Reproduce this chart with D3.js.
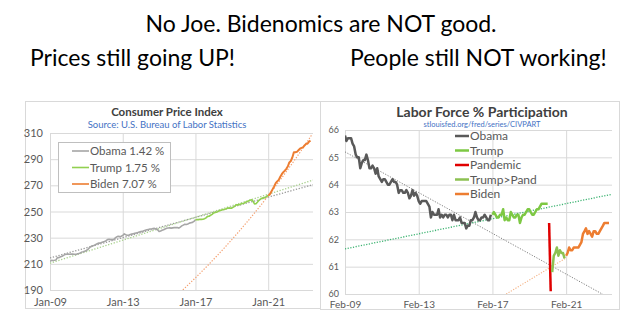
<!DOCTYPE html>
<html><head><meta charset="utf-8">
<script src="https://cdn.jsdelivr.net/npm/d3@7"></script>
<style>
body{margin:0;background:#fff;}
svg{display:block;font-family:Lato,'Open Sans',sans-serif;}
</style>
</head><body>
<svg id="c" width="640" height="330"></svg>
<script>
// ---------------- DATA ----------------
const headline = "No Joe. Bidenomics are NOT good.";
const subLeft = "Prices still going UP!";
const subRight = "People still NOT working!";

// Consumer Price Index, monthly from Jan 2009
const cpiTitle = "Consumer Price Index";
const cpiSource = "Source: U.S. Bureau of Labor Statistics";
const cpiStart = "2009-01";
const cpiValues = [
 211.9,212.7,212.5,212.7,213.0,214.8,214.7,215.4,215.8,216.5,217.2,217.3,
 217.5,217.3,217.4,217.4,217.3,217.2,217.6,217.9,218.3,219.0,219.2,219.7,
 220.2,221.0,222.2,223.1,223.8,224.0,224.6,225.3,225.8,225.8,226.3,226.7,
 227.1,227.7,228.5,228.8,228.5,228.5,228.5,229.6,230.6,231.1,230.8,231.1,
 231.6,232.9,232.3,231.8,231.9,232.4,232.7,233.0,233.3,233.6,233.9,234.3,
 234.6,234.8,235.2,235.6,236.0,236.3,236.6,236.6,236.9,237.1,236.6,236.0,
 234.7,235.1,235.6,236.0,236.6,237.2,237.4,237.5,237.3,237.5,237.7,237.8,
 237.7,237.3,238.1,239.0,239.6,240.2,240.1,240.5,241.1,241.4,241.7,242.5,
 243.6,243.9,243.8,244.1,244.0,244.1,244.5,245.1,246.3,246.4,247.1,247.8,
 248.9,249.3,249.4,250.1,250.6,251.0,251.3,251.6,251.9,252.6,252.7,252.6,
 252.6,253.3,254.1,255.1,255.1,255.2,255.8,256.1,256.3,257.0,257.5,258.0,
 258.6,259.0,258.0,255.8,255.9,257.2,258.6,259.4,260.2,260.4,260.8,261.6,
 262.2,263.0,264.9,267.1,269.2,271.7,273.0,274.2,276.6,278.5,280.1,281.2,
 282.6,284.6,287.5,288.6,291.3,295.3,295.3,295.6,296.8,298.0,298.6,299.0,
 300.5,301.7,301.8,303.4,304.1
];
const cpiYTicks = [190,210,230,250,270,290,310];
const cpiXTicks = ["2009-01","2013-01","2017-01","2021-01"];
const cpiNames = ["Obama 1.42 %","Trump 1.75 %","Biden 7.07 %"];
const cpiRanges = [["2009-01","2017-01"],["2017-01","2021-01"],["2021-01","2023-05"]];
const cpiColors = ["#a6a6a6","#92d050","#ed7d31"];
// trend lines (value at x-domain start, value at x-domain end)
const cpiTrendObama = [214.5,270.5];
const cpiTrendTrump = [210.5,274.0];
// Biden exponential trend: annual growth rate and anchor
const cpiTrendBidenRate = 0.0707;
const cpiTrendBidenAnchor = ["2021-01",262.0];

// Labor force participation, monthly from Feb 2009
const lfprTitle = "Labor Force % Participation";
const lfprSource = "stlouisfed.org/fred/series/CIVPART";
const lfprStart = "2009-02";
const lfprValues = [
 65.8,65.6,65.7,65.7,65.7,65.5,65.4,65.1,65.0,65.0,64.6,
 64.8,64.9,64.9,65.1,64.9,64.6,64.6,64.7,64.6,64.4,64.6,64.3,
 64.2,64.1,64.2,64.2,64.1,64.0,64.0,64.1,64.2,64.1,64.1,64.0,
 63.7,63.8,63.8,63.7,63.7,63.8,63.7,63.5,63.6,63.8,63.6,63.7,
 63.6,63.4,63.3,63.4,63.4,63.4,63.4,63.3,63.2,62.8,63.0,62.9,
 62.9,62.9,63.1,62.8,62.9,62.8,62.9,62.9,62.8,62.9,62.9,62.7,
 62.9,62.7,62.7,62.7,62.8,62.6,62.6,62.6,62.4,62.5,62.5,62.7,
 62.7,62.8,63.0,62.8,62.7,62.7,62.8,62.8,62.9,62.8,62.7,62.7,
 62.9,62.9,63.0,62.9,62.8,62.8,62.9,62.9,63.1,62.7,62.8,62.7,
 62.7,63.0,62.9,62.8,62.8,62.9,62.9,62.6,62.8,62.9,62.9,63.0,
 63.1,63.1,63.0,62.9,62.9,63.0,63.1,63.1,63.2,63.3,63.3,63.3,
 63.3,63.3,62.6,60.1,60.8,61.4,61.5,61.7,61.4,61.6,61.5,61.5,
 61.3,61.4,61.5,61.7,61.6,61.6,61.7,61.7,61.7,61.7,61.8,61.9,
 62.2,62.3,62.4,62.2,62.3,62.2,62.1,62.3,62.3,62.2,62.2,62.3,
 62.4,62.5,62.6,62.6,62.6,62.6
];
const lfprYTicks = [60,61,62,63,64,65,66];
const lfprXTicks = ["2009-02","2013-02","2017-02","2021-02"];
const lfprNames = ["Obama","Trump","Pandemic","Trump>Pand","Biden"];
const lfprRanges = [["2009-02","2017-01"],["2017-02","2020-02"],["2020-03","2020-04"],["2020-05","2021-01"],["2021-02","2023-06"]];
const lfprColors = ["#595959","#7dc843","#e00000","#8cc152","#ed7d31"];
// linear trend lines: [startMonth, value, endMonth, value]
const lfprTrendObama = ["2009-02",65.2,"2023-08",59.8];
const lfprTrendTrump = ["2009-02",61.65,"2023-08",63.65];
const lfprTrendBiden = ["2017-11",60.0,"2021-02",61.32];

// ---------------- DRAWING ----------------
const pm = d3.timeParse("%Y-%m");
const svg = d3.select("#c");

svg.append("text").attr("x",321).attr("y",32).attr("text-anchor","middle")
  .attr("font-size",23).attr("fill","#000").text(headline);
svg.append("text").attr("x",30).attr("y",66)
  .attr("font-size",23).attr("fill","#000").text(subLeft);
svg.append("text").attr("x",350).attr("y",66)
  .attr("font-size",23).attr("fill","#000").text(subRight);

const defs = svg.append("defs");

function monthly(start, values){
  const s = pm(start);
  return values.map((v,i)=>({date:d3.timeMonth.offset(s,i), value:v}));
}
function slice(data, r){
  const a = pm(r[0]), b = pm(r[1]);
  return data.filter(d=>d.date>=a && d.date<=b);
}

// ===== LEFT: CPI =====
{
  const L = {x0:50,x1:313,y0:133,y1:290};
  svg.append("rect").attr("x",25.5).attr("y",101.5).attr("width",295).attr("height",207)
    .attr("fill","#fff").attr("stroke","#d9d9d9");
  const x = d3.scaleTime().domain([new Date(2009,0,1), new Date(2023,5,20)]).range([L.x0,L.x1]);
  const y = d3.scaleLinear().domain([190,310]).range([L.y1,L.y0]);

  const ya = svg.append("g").attr("transform",`translate(${L.x0},0)`)
    .call(d3.axisLeft(y).tickValues(cpiYTicks).tickFormat(d3.format("d")).tickSize(-(L.x1-L.x0)).tickPadding(7));
  const xa = svg.append("g").attr("transform",`translate(0,${L.y1})`)
    .call(d3.axisBottom(x).tickValues(cpiXTicks.map(pm)).tickFormat(d3.timeFormat("%b-%y"))
      .tickSize(-(L.y1-L.y0)).tickPadding(8));
  [ya,xa].forEach(g=>{
    g.select(".domain").remove();
    g.selectAll(".tick line").attr("stroke","#d9d9d9");
    g.selectAll("text").attr("fill","#595959").attr("font-size",11).attr("font-family","Lato");
  });

  svg.append("text").attr("x",167).attr("y",116).attr("text-anchor","middle")
    .attr("font-size",11.5).attr("font-weight","bold").attr("fill","#404040").text(cpiTitle);
  svg.append("text").attr("x",167).attr("y",128).attr("text-anchor","middle")
    .attr("font-size",9.5).attr("fill","#4472c4").text(cpiSource);

  defs.append("clipPath").attr("id","clipL").append("rect")
    .attr("x",L.x0).attr("y",L.y0).attr("width",L.x1-L.x0).attr("height",L.y1-L.y0);
  const gp = svg.append("g").attr("clip-path","url(#clipL)");
  const [d0,d1] = x.domain();
  const line = d3.line().x(d=>x(d.date)).y(d=>y(d.value));

  // trend lines
  const tl = (vals,color)=>gp.append("path")
    .datum([{date:d0,value:vals[0]},{date:d1,value:vals[1]}])
    .attr("d",line).attr("fill","none").attr("stroke",color)
    .attr("stroke-width",1.3).attr("stroke-dasharray","1.3,1.6");
  tl(cpiTrendObama,"#9a9a9a");
  tl(cpiTrendTrump,"#a9d18e");
  const anchor = pm(cpiTrendBidenAnchor[0]);
  const trendDates = d3.timeMonth.range(pm("2015-01"), d1);
  const bidenTrend = trendDates.map(dt=>({date:dt,
    value: cpiTrendBidenAnchor[1]*Math.pow(1+cpiTrendBidenRate,(dt-anchor)/(365.25*864e5))}));
  gp.append("path").datum(bidenTrend).attr("d",line).attr("fill","none")
    .attr("stroke","#f4a070").attr("stroke-width",1.2).attr("stroke-dasharray","1.3,1.6");

  const data = monthly(cpiStart,cpiValues);
  cpiRanges.forEach((r,i)=>{
    gp.append("path").datum(slice(data,r)).attr("d",line).attr("fill","none")
      .attr("stroke",cpiColors[i]).attr("stroke-width",i===2?2:1.6).attr("stroke-linejoin","round");
  });

  // legend
  const lg = svg.append("g");
  lg.append("rect").attr("x",58.5).attr("y",142.5).attr("width",112).attr("height",50)
    .attr("fill","#fff").attr("stroke","#bfbfbf");
  cpiNames.forEach((n,i)=>{
    const yy = 151+i*16.5;
    lg.append("line").attr("x1",72).attr("x2",89).attr("y1",yy).attr("y2",yy)
      .attr("stroke",cpiColors[i]).attr("stroke-width",1.6);
    lg.append("text").attr("x",90).attr("y",yy).attr("dy","0.35em")
      .attr("font-size",11.5).attr("fill","#595959").text(n);
  });
}

// ===== RIGHT: LFPR =====
{
  const R = {x0:345,x1:612,y0:130,y1:294};
  svg.append("rect").attr("x",320.5).attr("y",101.5).attr("width",299).attr("height",208)
    .attr("fill","#fff").attr("stroke","#d9d9d9");
  const x = d3.scaleTime().domain([new Date(2009,1,1), new Date(2023,6,30)]).range([R.x0,R.x1]);
  const y = d3.scaleLinear().domain([60,66]).range([R.y1,R.y0]);

  const ya = svg.append("g").attr("transform",`translate(${R.x0},0)`)
    .call(d3.axisLeft(y).tickValues(lfprYTicks).tickFormat(d3.format("d")).tickSize(-(R.x1-R.x0)).tickPadding(6));
  const xa = svg.append("g").attr("transform",`translate(0,${R.y1})`)
    .call(d3.axisBottom(x).tickValues(lfprXTicks.map(pm)).tickFormat(d3.timeFormat("%b-%y"))
      .tickSize(-(R.y1-R.y0)).tickPadding(7));
  [ya,xa].forEach(g=>{
    g.select(".domain").remove();
    g.selectAll(".tick line").attr("stroke","#d9d9d9");
    g.selectAll("text").attr("fill","#595959").attr("font-family","Lato");
  });
  ya.selectAll("text").attr("font-size",9);
  xa.selectAll("text").attr("font-size",10);

  svg.append("text").attr("x",482).attr("y",117).attr("text-anchor","middle")
    .attr("font-size",14).attr("font-weight","bold").attr("fill","#404040").text(lfprTitle);
  svg.append("text").attr("x",482).attr("y",127).attr("text-anchor","middle")
    .attr("font-size",7.5).attr("fill","#4472c4").text(lfprSource);

  defs.append("clipPath").attr("id","clipR").append("rect")
    .attr("x",R.x0).attr("y",R.y0).attr("width",R.x1-R.x0).attr("height",R.y1-R.y0);
  const gp = svg.append("g").attr("clip-path","url(#clipR)");
  const line = d3.line().x(d=>x(d.date)).y(d=>y(d.value));

  const tl = (t,color,w)=>gp.append("path")
    .datum([{date:pm(t[0]),value:t[1]},{date:pm(t[2]),value:t[3]}])
    .attr("d",line).attr("fill","none").attr("stroke",color)
    .attr("stroke-width",w).attr("stroke-dasharray","1.2,1.5");
  tl(lfprTrendObama,"#808080",1);
  tl(lfprTrendTrump,"#3cb371",1.3);
  tl(lfprTrendBiden,"#f4b183",1.1);

  const data = monthly(lfprStart,lfprValues);
  lfprRanges.forEach((r,i)=>{
    gp.append("path").datum(slice(data,r)).attr("d",line).attr("fill","none")
      .attr("stroke",lfprColors[i]).attr("stroke-width",2.5).attr("stroke-linejoin","round");
  });

  const lg = svg.append("g");
  lfprNames.forEach((n,i)=>{
    const yy = 136+i*14.5;
    lg.append("line").attr("x1",455).attr("x2",469).attr("y1",yy).attr("y2",yy)
      .attr("stroke",lfprColors[i]).attr("stroke-width",2.5);
    lg.append("text").attr("x",470).attr("y",yy).attr("dy","0.35em")
      .attr("font-size",12).attr("fill","#595959").text(n);
  });
}
</script>
</body></html>
